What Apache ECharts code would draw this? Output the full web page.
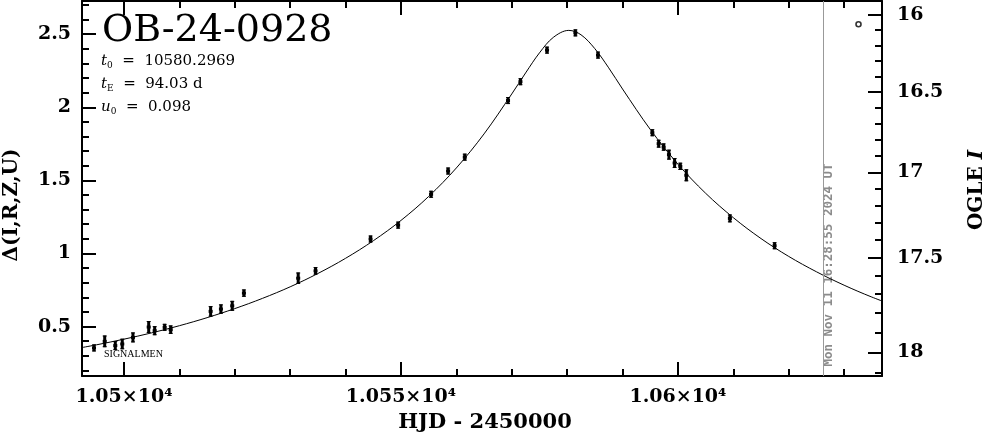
<!DOCTYPE html>
<html><head><meta charset="utf-8">
<script src="https://cdn.jsdelivr.net/npm/echarts@6/dist/echarts.min.js"></script>
<style>html,body{margin:0;padding:0;background:#fff}#c{width:986px;height:434px}</style>
</head><body><div id="c"></div>
<script>
// ---- data ----
const curveT = [10490,10495,10500,10505,10510,10515,10520,10525,10530,10535,10540,10545,10550,10555,10560,10565,10570,10572.5,10575,10577.5,10580.3,10582.5,10585,10587.5,10590,10595,10600,10605,10610,10615,10620,10625,10630,10635,10640];
const curveDelta = [0.340,0.375,0.414,0.457,0.506,0.561,0.623,0.693,0.772,0.863,0.967,1.087,1.226,1.390,1.585,1.818,2.091,2.235,2.372,2.478,2.526,2.496,2.401,2.270,2.125,1.849,1.611,1.412,1.245,1.102,0.980,0.875,0.783,0.702,0.631];

const obsT = [10494.59,10496.52,10498.43,10499.69,10501.62,10504.46,10505.54,10507.34,10508.43,10515.64,10517.50,10519.54,10521.65,10531.45,10534.58,10544.51,10549.49,10555.44,10558.51,10561.52,10569.33,10571.57,10576.37,10581.49,10585.57,10595.38,10596.52,10597.42,10598.38,10599.40,10600.43,10601.52,10609.38,10617.45];
const obsDelta = [0.354,0.399,0.370,0.381,0.426,0.497,0.472,0.495,0.479,0.604,0.620,0.642,0.729,0.831,0.881,1.099,1.194,1.405,1.564,1.659,2.046,2.175,2.391,2.509,2.357,1.826,1.751,1.728,1.676,1.619,1.596,1.535,1.240,1.053];
const obsErr = [0.024,0.040,0.031,0.036,0.034,0.041,0.031,0.023,0.029,0.036,0.032,0.034,0.025,0.039,0.026,0.024,0.024,0.017,0.024,0.017,0.020,0.020,0.020,0.014,0.017,0.022,0.027,0.025,0.034,0.034,0.025,0.041,0.027,0.024];

const markerT = [10632.60];
const markerDelta = [2.568];

const nowT = 10626.19;
const nowLabel = 'Mon Nov 11 16:28:55 2024 UT';

const xTickValues = [10500, 10550, 10600];
const xTickLabels = ['1.05×10⁴', '1.055×10⁴', '1.06×10⁴'];
const leftTickValues = [0.5, 1, 1.5, 2, 2.5];
const leftTickLabels = ['0.5', '1', '1.5', '2', '2.5'];
const rightTickMags = [16, 16.5, 17, 17.5, 18];
const rightTickLabels = ['16', '16.5', '17', '17.5', '18'];

// ---- scales ----
const X_MIN = 10492.42, X_MAX = 10636.84;
const Y_MIN = 0.162, Y_MAX = 2.727;
const FS = 0.08447, FB = 0.04464;   // source / blend flux (relative to I=16)
function magToDelta(m) {
  const f = Math.pow(10, -0.4 * (m - 16));
  return 2.5 * Math.log10((f - FB) / FS);
}

const xMinor = [];
for (let v = 10500; v <= 10630; v += 10) if (xTickValues.indexOf(v) < 0) xMinor.push(v);
const leftMinor = [];
for (let k = 2; k <= 27; k++) { const v = k / 10; if (k % 5 !== 0) leftMinor.push(v); }
const rightMajorPos = rightTickMags.map(magToDelta);
const rightMinorPos = [];
for (let k = 160; k <= 181; k++) {
  if (k % 5 === 0) continue;
  const d = magToDelta(k / 10);
  if (d > Y_MIN && d < Y_MAX) rightMinorPos.push(d);
}

const LBL = { color: '#000', fontFamily: 'DejaVu Serif', fontWeight: 'bold', fontSize: 19 };
const TICK = { color: '#000', width: 2 };

function nearestLabel(val, pos, labels) {
  let bi = 0, bd = Infinity;
  pos.forEach((p, i) => { const d = Math.abs(p - val); if (d < bd) { bd = d; bi = i; } });
  return labels[bi];
}

function xAx(position, vals, len, withLabels, showLine) {
  return {
    type: 'value', position: position, min: X_MIN, max: X_MAX,
    axisLine: { show: showLine, onZero: false, lineStyle: { color: '#000', width: 2 } },
    axisTick: { show: true, inside: true, length: len, customValues: vals, lineStyle: TICK },
    axisLabel: withLabels ? Object.assign({
      show: true, customValues: vals, margin: 12,
      formatter: v => nearestLabel(v, xTickValues, xTickLabels)
    }, LBL) : { show: false },
    splitLine: { show: false }, minorTick: { show: false }
  };
}
function yAx(position, vals, len, labelPos, labels, showLine, margin) {
  return {
    type: 'value', position: position, min: Y_MIN, max: Y_MAX,
    axisLine: { show: showLine, onZero: false, lineStyle: { color: '#000', width: 2 } },
    axisTick: { show: true, inside: true, length: len, customValues: vals, lineStyle: TICK },
    axisLabel: labels ? Object.assign({
      show: true, customValues: vals, margin: margin,
      formatter: v => nearestLabel(v, labelPos, labels)
    }, LBL) : { show: false },
    splitLine: { show: false }, minorTick: { show: false }
  };
}

const chart = echarts.init(document.getElementById('c'), null, { renderer: 'canvas' });

const obsData = obsT.map((t, i) => [t, obsDelta[i], obsErr[i]]);

function paramText(sym, sub, rest) {
  return {
    text: '{t|' + sym + '}{s|' + sub + '}{n|  =  ' + rest + '}',
    rich: {
      t: { fontFamily: 'DejaVu Serif', fontStyle: 'italic', fontSize: 15, lineHeight: 18, fill: '#000' },
      s: { fontFamily: 'DejaVu Serif', fontSize: 9, lineHeight: 9, verticalAlign: 'bottom', fill: '#000' },
      n: { fontFamily: 'DejaVu Serif', fontSize: 15, lineHeight: 18, fill: '#000' }
    }
  };
}

const option = {
  animation: false,
  backgroundColor: '#fff',
  grid: { left: 82, right: 104, top: 1, bottom: 58, containLabel: false },
  xAxis: [
    xAx('bottom', xTickValues, 14, true, true),
    xAx('bottom', xMinor, 7, false, false),
    xAx('top', xTickValues, 14, false, true),
    xAx('top', xMinor, 7, false, false)
  ],
  yAxis: [
    yAx('left', leftTickValues, 14, leftTickValues, leftTickLabels, true, 11),
    yAx('left', leftMinor, 7, null, null, false),
    yAx('right', rightMajorPos, 14, rightMajorPos, rightTickLabels, true, 15),
    yAx('right', rightMinorPos, 7, null, null, false)
  ],
  series: [
    {
      type: 'line', xAxisIndex: 0, yAxisIndex: 0,
      data: curveT.map((t, i) => [t, curveDelta[i]]),
      smooth: 0.35, showSymbol: false, clip: true,
      lineStyle: { color: '#000', width: 1 },
      markLine: {
        silent: true, symbol: ['none', 'none'],
        lineStyle: { color: '#999', width: 1, type: 'solid' },
        label: { show: false },
        data: [{ xAxis: nowT }]
      },
      z: 3
    },
    {
      type: 'custom', xAxisIndex: 0, yAxisIndex: 0, data: obsData, clip: true,
      renderItem: function (params, api) {
        const t = api.value(0), v = api.value(1), e = api.value(2);
        const top = api.coord([t, v + e]);
        const bot = api.coord([t, v - e]);
        const c = api.coord([t, v]);
        let h = bot[1] - top[1];
        let y0 = top[1];
        if (h < 7) { y0 = c[1] - 3.5; h = 7; }
        return {
          type: 'group',
          children: [
            { type: 'rect', shape: { x: c[0] - 1.5, y: y0, width: 3, height: h }, style: { fill: '#000' } },
            { type: 'rect', shape: { x: c[0] - 2, y: c[1] - 1.5, width: 4, height: 3 }, style: { fill: '#000' } },
            { type: 'rect', shape: { x: c[0] - 2, y: y0, width: 4, height: 1 }, style: { fill: '#000' } },
            { type: 'rect', shape: { x: c[0] - 2, y: y0 + h - 1, width: 4, height: 1 }, style: { fill: '#000' } }
          ]
        };
      },
      z: 4
    },
    {
      type: 'scatter', xAxisIndex: 0, yAxisIndex: 0,
      data: markerT.map((t, i) => [t, markerDelta[i]]),
      symbol: 'circle', symbolSize: 5,
      itemStyle: { color: '#fff', borderColor: '#000', borderWidth: 1.6 }, z: 5
    }
  ],
  graphic: [
    { type: 'text', left: 102, top: 12, style: { text: 'OB-24-0928', fontFamily: 'DejaVu Serif', fontSize: 38, fill: '#000' } },
    { type: 'text', left: 101, top: 54, style: paramText('t', '0', '10580.2969') },
    { type: 'text', left: 101, top: 77, style: paramText('t', 'E', '94.03 d') },
    { type: 'text', left: 101, top: 100, style: paramText('u', '0', '0.098') },
    { type: 'text', x: 12, y: 205, rotation: Math.PI / 2, style: {
      text: 'Δ(I,R,Z,U)', fontFamily: 'DejaVu Serif', fontWeight: 'bold', fontSize: 20, fill: '#000',
      align: 'center', verticalAlign: 'middle' } },
    { type: 'text', x: 977, y: 190, rotation: Math.PI / 2, style: {
      text: '{a|OGLE }{b|I}',
      rich: {
        a: { fontFamily: 'DejaVu Serif', fontWeight: 'bold', fontSize: 20, fill: '#000' },
        b: { fontFamily: 'DejaVu Serif', fontWeight: 'bold', fontStyle: 'italic', fontSize: 20, fill: '#000' }
      },
      align: 'center', verticalAlign: 'middle' } },
    { type: 'text', x: 485, y: 423, style: {
      text: 'HJD - 2450000', fontFamily: 'DejaVu Serif', fontWeight: 'bold', fontSize: 21, fill: '#000',
      align: 'center', verticalAlign: 'middle' } },
    { type: 'text', left: 104, top: 349, style: {
      text: 'SIGNALMEN', fontFamily: 'Liberation Serif', fontSize: 10, fill: '#000' } }
  ]
};
chart.setOption(option);

// rotated timestamp next to the "now" line
const nowPx = chart.convertToPixel({ xAxisIndex: 0 }, nowT);
chart.setOption({
  graphic: option.graphic.concat([
    { type: 'text', x: nowPx + 6, y: 265, rotation: Math.PI / 2, style: {
      text: nowLabel, fontFamily: 'DejaVu Sans Mono', fontWeight: 'bold', fontSize: 12.5, fill: '#8c8c8c',
      align: 'center', verticalAlign: 'middle' } }
  ])
});
</script>
</body></html>
